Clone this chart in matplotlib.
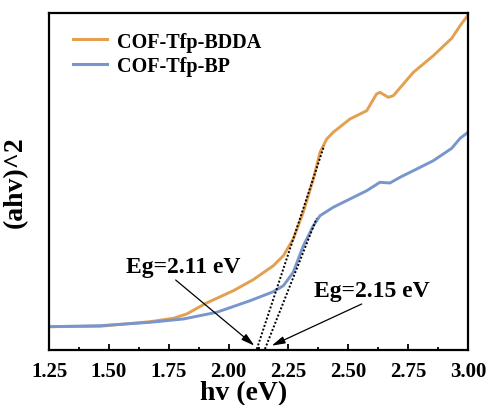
import matplotlib
matplotlib.use("Agg")
import matplotlib.pyplot as plt
from matplotlib.ticker import MultipleLocator, NullLocator

plt.rcParams['font.family'] = ['Liberation Serif', 'DejaVu Serif']
plt.rcParams['font.weight'] = 'bold'

# COF-Tfp-BDDA
bdda_x = [1.25, 1.463, 1.672, 1.769, 1.825, 1.908, 2.020, 2.103, 2.187, 2.229, 2.270,
          2.312, 2.354, 2.382, 2.410, 2.437, 2.507, 2.549, 2.577, 2.618, 2.632, 2.667,
          2.688, 2.772, 2.855, 2.932, 2.967, 3.0]
bdda_y = [23.3, 23.7, 28.3, 31.7, 36, 47, 59.3, 70.3, 84.3, 94.3, 111,
          137.7, 171, 197.7, 211, 217.7, 231, 236, 239.3, 256, 257.7, 252.7,
          254.3, 277.7, 294.3, 311.7, 324.3, 335]

# COF-Tfp-BP
bp_x = [1.25, 1.463, 1.672, 1.811, 1.950, 2.090, 2.187, 2.229, 2.270, 2.312, 2.354,
        2.382, 2.437, 2.507, 2.577, 2.632, 2.674, 2.716, 2.786, 2.855, 2.932, 2.967, 3.0]
bp_y = [23.3, 24.3, 27.7, 31, 37.7, 49.3, 58.3, 64.3, 77.7, 104, 124.3,
        134.3, 142.7, 151, 159.3, 167.7, 167, 172.7, 181, 189.3, 201.7, 211.7, 217.7]

# Tangent lines (extrapolation to baseline)
tan1_x = [2.118, 2.399]
tan1_y = [1, 204.3]
tan2_x = [2.152, 2.368]
tan2_y = [1, 131.7]

labels = ['COF-Tfp-BDDA', 'COF-Tfp-BP']
eg_labels = ['Eg=2.11 eV', 'Eg=2.15 eV']

orange = '#E2A050'
blue = '#7896CC'

fig = plt.figure(figsize=(4.87, 4.06), dpi=100)
ax = fig.add_axes([49/487, 1-351/406, (468-49)/487, (351-14)/406])

ax.plot(bdda_x, bdda_y, color=orange, lw=2.1, label=labels[0])
ax.plot(bp_x, bp_y, color=blue, lw=2.1, label=labels[1])
ax.plot(tan1_x, tan1_y, color='black', lw=1.4, ls=(0, (1, 1)))
ax.plot(tan2_x, tan2_y, color='black', lw=1.4, ls=(0, (1, 1)))

arrow = dict(arrowstyle='-|>,head_length=0.8,head_width=0.22', color='black', lw=0.9,
             shrinkA=0, shrinkB=0)
ax.annotate('', xy=(2.108, 4.3), xytext=(1.779, 70), arrowprops=arrow)
ax.annotate('', xy=(2.180, 4.3), xytext=(2.556, 46), arrowprops=arrow)
ax.text(1.81, 84, eg_labels[0], fontsize=17, fontweight='bold', ha='center', va='center')
ax.text(2.598, 59, eg_labels[1], fontsize=17, fontweight='bold', ha='center', va='center')

ax.set_xlim(1.25, 3.0)
ax.set_ylim(0, 337)
ax.xaxis.set_major_locator(MultipleLocator(0.25))
ax.xaxis.set_minor_locator(MultipleLocator(0.125))
ax.yaxis.set_major_locator(NullLocator())
ax.tick_params(axis='x', which='major', direction='in', length=4.5, width=1.3,
               labelsize=15, pad=8)
ax.tick_params(axis='x', which='minor', direction='in', length=2.5, width=1.3)
ax.set_xticklabels([f'{v:.2f}' for v in ax.get_xticks()], fontweight='bold')
for s in ax.spines.values():
    s.set_linewidth(1.6)

ax.set_xlabel('hv (eV)', fontsize=20, fontweight='bold')
ax.xaxis.set_label_coords(0.465, -0.09, transform=ax.transAxes)
ax.xaxis.label.set_va('top')
ax.set_ylabel('(ahv)^2', fontsize=20, fontweight='bold')
ax.yaxis.set_label_coords(-0.05, 0.5)

leg = ax.legend(loc='upper left', bbox_to_anchor=(0.057, 0.945), frameon=False,
                prop={'size': 14.5, 'weight': 'bold'}, handlelength=1.7,
                handletextpad=0.5, labelspacing=0.2, borderpad=0, borderaxespad=0)
for h in leg.legend_handles:
    h.set_linewidth(2.2)

fig.savefig('out.png', dpi=100)
